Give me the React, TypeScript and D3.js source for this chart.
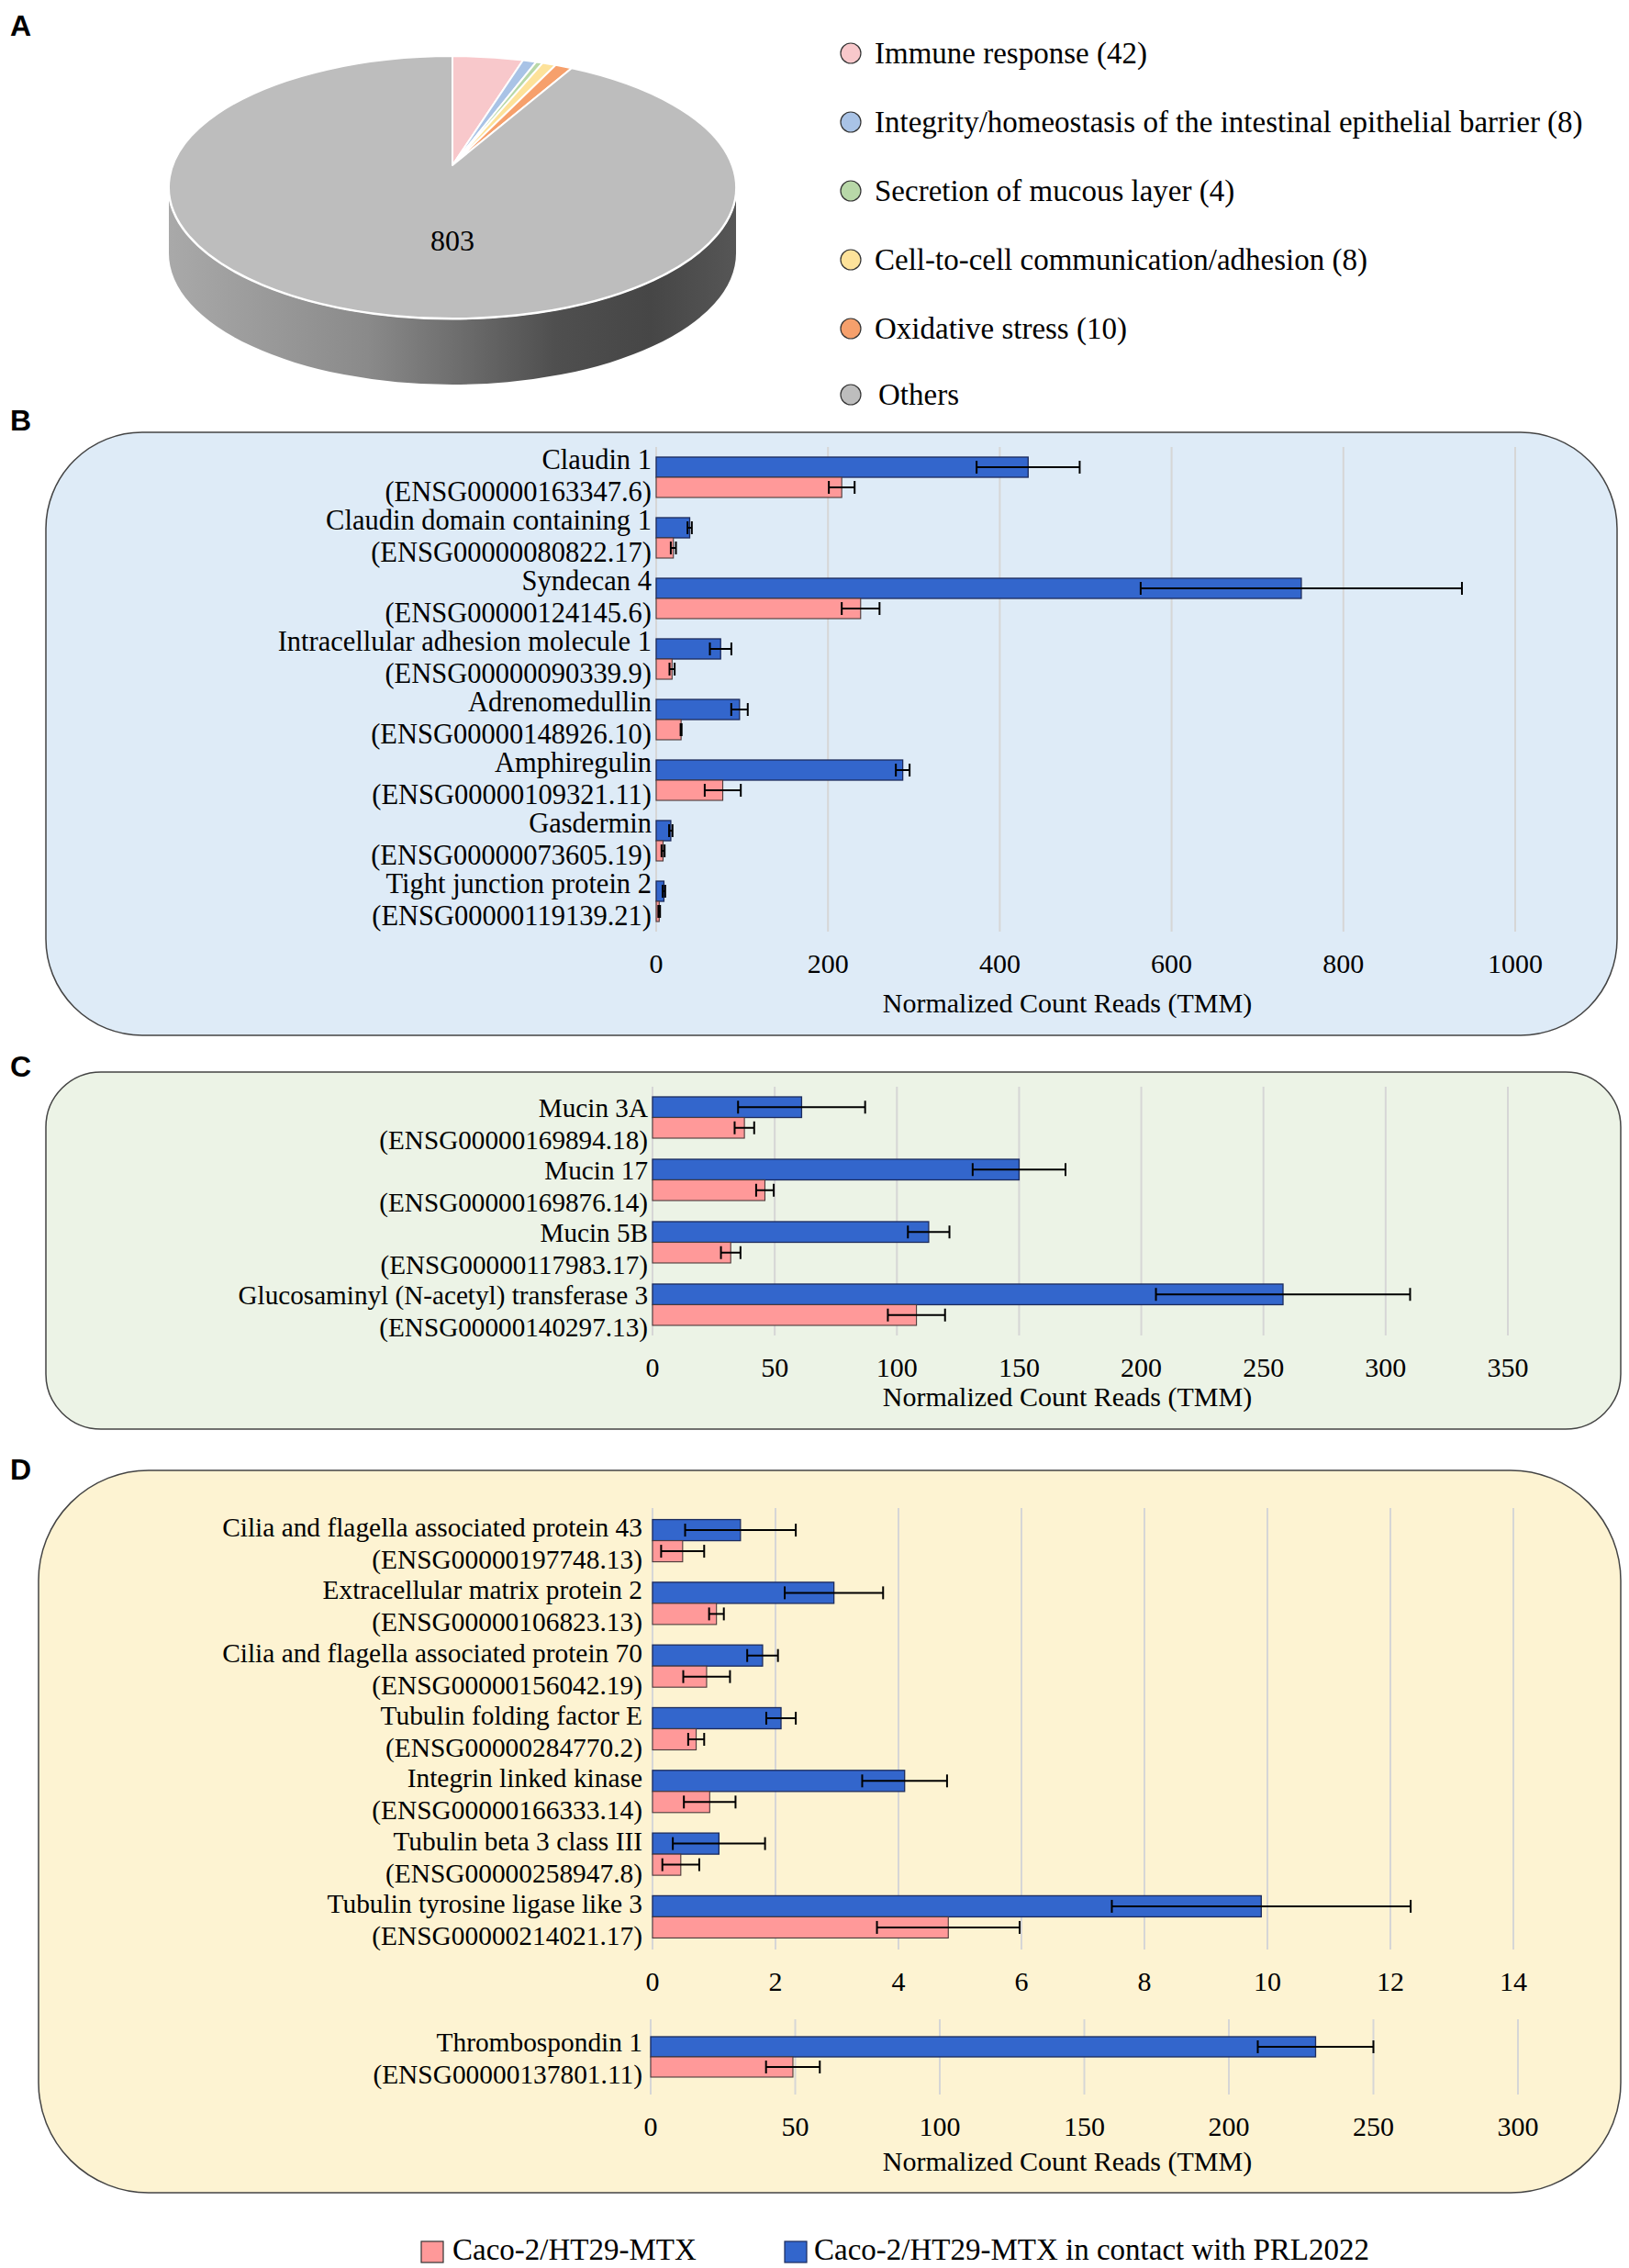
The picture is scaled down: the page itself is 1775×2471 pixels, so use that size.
import React from "react";
import * as d3 from "d3";

const serif = "'Liberation Serif', 'Times New Roman', serif";
const sans = "'Liberation Sans', Arial, sans-serif";

// legend series (control first, treated second)
const seriesNames = ["Caco-2/HT29-MTX", "Caco-2/HT29-MTX in contact with PRL2022"];
const controlColor = "#ff9999";
const treatedColor = "#3366cc";

// Panel A - pie
const pieCategories = [
  "Immune response (42)",
  "Integrity/homeostasis of the intestinal epithelial barrier (8)",
  "Secretion of mucous layer (4)",
  "Cell-to-cell communication/adhesion (8)",
  "Oxidative stress (10)",
  "Others",
];
const pieValues = [42, 8, 4, 8, 10, 803];
const pieColors = ["#f8c8cb", "#a9c3e6", "#b8d8a8", "#fde29a", "#f6a06c", "#bdbdbd"];

// Panel B
const bGenes = [
  "Claudin 1",
  "Claudin domain containing 1",
  "Syndecan 4",
  "Intracellular adhesion molecule 1",
  "Adrenomedullin",
  "Amphiregulin",
  "Gasdermin",
  "Tight junction protein 2",
];
const bIds = [
  "(ENSG00000163347.6)",
  "(ENSG00000080822.17)",
  "(ENSG00000124145.6)",
  "(ENSG00000090339.9)",
  "(ENSG00000148926.10)",
  "(ENSG00000109321.11)",
  "(ENSG00000073605.19)",
  "(ENSG00000119139.21)",
];
const bTreated = [433, 39, 751, 75, 97, 287, 17, 9];
const bTreatedErr = [60, 2.5, 187, 12.5, 9.6, 8, 2, 1.5];
const bControl = [216, 20, 238, 18.5, 29, 77.5, 8, 3.5];
const bControlErr = [15, 3, 22, 3, 0.6, 21, 1.8, 1];
const bTicks = [0, 200, 400, 600, 800, 1000];

// Panel C
const cGenes = ["Mucin 3A", "Mucin 17", "Mucin 5B", "Glucosaminyl (N-acetyl) transferase 3"];
const cIds = [
  "(ENSG00000169894.18)",
  "(ENSG00000169876.14)",
  "(ENSG00000117983.17)",
  "(ENSG00000140297.13)",
];
const cTreated = [61, 150, 113, 258];
const cTreatedErr = [26, 19, 8.5, 52];
const cControl = [37.6, 46, 32, 108];
const cControlErr = [4, 3.6, 4, 11.7];
const cTicks = [0, 50, 100, 150, 200, 250, 300, 350];

// Panel D (upper chart)
const dGenes = [
  "Cilia and flagella associated protein 43",
  "Extracellular matrix protein 2",
  "Cilia and flagella associated protein 70",
  "Tubulin folding factor E",
  "Integrin linked kinase",
  "Tubulin beta 3 class III",
  "Tubulin tyrosine ligase like 3",
];
const dIds = [
  "(ENSG00000197748.13)",
  "(ENSG00000106823.13)",
  "(ENSG00000156042.19)",
  "(ENSG00000284770.2)",
  "(ENSG00000166333.14)",
  "(ENSG00000258947.8)",
  "(ENSG00000214021.17)",
];
const dTreated = [1.43, 2.95, 1.79, 2.09, 4.1, 1.08, 9.9];
const dTreatedErr = [0.9, 0.8, 0.25, 0.24, 0.69, 0.75, 2.43];
const dControl = [0.49, 1.04, 0.88, 0.71, 0.93, 0.46, 4.81];
const dControlErr = [0.35, 0.12, 0.38, 0.13, 0.42, 0.3, 1.16];
const dTicks = [0, 2, 4, 6, 8, 10, 12, 14];

// Panel D (lower chart)
const tGenes = ["Thrombospondin 1"];
const tIds = ["(ENSG00000137801.11)"];
const tTreated = [230];
const tTreatedErr = [20];
const tControl = [49.2];
const tControlErr = [9.3];
const tTicks = [0, 50, 100, 150, 200, 250, 300];

const axisTitle = "Normalized Count Reads (TMM)";

interface BarChartProps {
  genes: string[];
  ids: string[];
  treated: number[];
  treatedErr: number[];
  control: number[];
  controlErr: number[];
  ticks: number[];
  xRange: [number, number];
  top: number;
  bottom: number;
  padInner: number;
  padOuter: number;
  labelShift: number;
  labelGap: number;
  fontSize: number;
  titleY?: number;
}

function BarChart(p: BarChartProps) {
  const max = p.ticks[p.ticks.length - 1];
  const x = d3.scaleLinear().domain([0, max]).range(p.xRange);
  const y = d3
    .scaleBand()
    .domain(p.genes)
    .range([p.top, p.bottom])
    .paddingInner(p.padInner)
    .paddingOuter(p.padOuter);
  const inner = d3.scaleBand().domain(["treated", "control"]).range([0, y.bandwidth()]);
  const bh = inner.bandwidth();
  const cap = 7;

  const errBar = (cx: number, cy: number, e: number, key: string) => (
    <g key={key} stroke="#000" strokeWidth={2}>
      <line x1={x(cx - e)} x2={x(cx + e)} y1={cy} y2={cy} />
      <line x1={x(cx - e)} x2={x(cx - e)} y1={cy - cap} y2={cy + cap} />
      <line x1={x(cx + e)} x2={x(cx + e)} y1={cy - cap} y2={cy + cap} />
    </g>
  );

  return (
    <g>
      {p.ticks.map((t) => (
        <line key={t} x1={x(t)} x2={x(t)} y1={p.top} y2={p.bottom} stroke="#d6d6d6" strokeWidth={2} />
      ))}
      {p.genes.map((g, i) => {
        const y0 = y(g) ?? 0;
        const yt = y0 + (inner("treated") ?? 0);
        const yc = y0 + (inner("control") ?? 0);
        const mid = y0 + y.bandwidth() / 2 + p.labelShift;
        return (
          <g key={g}>
            <rect x={x(0)} y={yt} width={x(p.treated[i]) - x(0)} height={bh} fill={treatedColor} stroke="#1c2b5c" strokeWidth={1.3} />
            <rect x={x(0)} y={yc} width={x(p.control[i]) - x(0)} height={bh} fill={controlColor} stroke="#4a3a3a" strokeWidth={1.1} />
            {errBar(p.treated[i], yt + bh / 2, p.treatedErr[i], "et")}
            {errBar(p.control[i], yc + bh / 2, p.controlErr[i], "ec")}
            <text x={x(0) - p.labelGap} y={mid - 17.5 + 10} textAnchor="end" fontFamily={serif} fontSize={p.fontSize}>
              {g}
            </text>
            <text x={x(0) - p.labelGap} y={mid + 17.5 + 10} textAnchor="end" fontFamily={serif} fontSize={p.fontSize}>
              {p.ids[i]}
            </text>
          </g>
        );
      })}
      {p.ticks.map((t) => (
        <text key={"l" + t} x={x(t)} y={p.bottom + 45} textAnchor="middle" fontFamily={serif} fontSize={30}>
          {t}
        </text>
      ))}
      {p.titleY !== undefined && (
        <text x={1163} y={p.titleY} textAnchor="middle" fontFamily={serif} fontSize={30}>
          {axisTitle}
        </text>
      )}
    </g>
  );
}

// 3D pie geometry
const pieCx = 493;
const pieCy = 204;
const pieRx = 309;
const pieRy = 143;
const pieDepth = 72;
const apexY = 180;

function rimPoint(angle: number): [number, number, number] {
  const py = (apexY - pieCy) / pieRy;
  const dx = Math.sin(angle);
  const dy = -Math.cos(angle);
  const pd = py * dy;
  const t = -pd + Math.sqrt(pd * pd - (py * py - 1));
  const ux = t * dx;
  const uy = py + t * dy;
  let a = Math.atan2(ux, -uy);
  if (a < 0) a += Math.PI * 2;
  return [pieCx + pieRx * ux, pieCy + pieRy * uy, a];
}

function PieA() {
  const arcs = d3.pie<number>().sort(null)(pieValues);
  const side =
    `M${pieCx - pieRx},${pieCy} A${pieRx},${pieRy} 0 0 0 ${pieCx + pieRx},${pieCy} ` +
    `L${pieCx + pieRx},${pieCy + pieDepth} A${pieRx},${pieRy} 0 0 1 ${pieCx - pieRx},${pieCy + pieDepth} Z`;
  return (
    <g>
      <defs>
        <linearGradient id="sideGrad" x1="0" x2="1" y1="0" y2="0">
          <stop offset="0" stopColor="#a9a9a9" />
          <stop offset="0.35" stopColor="#8a8a8a" />
          <stop offset="0.68" stopColor="#4f4f4f" />
          <stop offset="0.85" stopColor="#464646" />
          <stop offset="1" stopColor="#565656" />
        </linearGradient>
      </defs>
      <path d={side} fill="url(#sideGrad)" />
      <ellipse cx={pieCx} cy={pieCy} rx={pieRx} ry={pieRy} fill="#bdbdbd" stroke="#fff" strokeWidth={3} />
      {arcs.map((a, i) => {
        const [x0, y0, p0] = rimPoint(a.startAngle);
        const [x1, y1, p1] = rimPoint(a.endAngle);
        const large = p1 - p0 > Math.PI ? 1 : 0;
        const d = `M${pieCx},${apexY} L${x0},${y0} A${pieRx},${pieRy} 0 ${large} 1 ${x1},${y1} Z`;
        return <path key={i} d={d} fill={pieColors[i]} stroke="#fff" strokeWidth={2} strokeLinejoin="round" />;
      })}
      <text x={pieCx} y={273} textAnchor="middle" fontFamily={serif} fontSize={32}>
        {pieValues[5]}
      </text>
      {pieCategories.map((c, i) => {
        const yc = [58, 133, 208, 283, 358, 430][i];
        return (
          <g key={c}>
            <circle cx={927} cy={yc} r={11} fill={pieColors[i]} stroke="#333" strokeWidth={1.2} />
            <text x={i === 5 ? 957 : 953} y={yc + 11} fontFamily={serif} fontSize={33}>
              {c}
            </text>
          </g>
        );
      })}
    </g>
  );
}

export default function App() {
  return (
    <svg
      width={1775}
      height={2471}
      style={{ position: "absolute", left: 0, top: 0, background: "#fff" }}
    >
      <rect x={0} y={0} width={1775} height={2471} fill="#fff" />
      <text x={11} y={39} fontFamily={sans} fontWeight="bold" fontSize={32}>A</text>
      <PieA />

      <text x={11} y={469} fontFamily={sans} fontWeight="bold" fontSize={32}>B</text>
      <rect x={50} y={471} width={1712} height={657} rx={105} ry={105} fill="#deebf7" stroke="#444" strokeWidth={1.5} />
      <BarChart
        genes={bGenes}
        ids={bIds}
        treated={bTreated}
        treatedErr={bTreatedErr}
        control={bControl}
        controlErr={bControlErr}
        ticks={bTicks}
        xRange={[715, 1651]}
        top={487}
        bottom={1015}
        padInner={1 / 3}
        padOuter={1 / 6}
        labelShift={-1.5}
        labelGap={5}
        fontSize={30.5}
        titleY={1103}
      />

      <text x={11} y={1173} fontFamily={sans} fontWeight="bold" fontSize={32}>C</text>
      <rect x={50} y={1168} width={1716} height={389} rx={60} ry={60} fill="#ecf3e6" stroke="#444" strokeWidth={1.5} />
      <BarChart
        genes={cGenes}
        ids={cIds}
        treated={cTreated}
        treatedErr={cTreatedErr}
        control={cControl}
        controlErr={cControlErr}
        ticks={cTicks}
        xRange={[711, 1643]}
        top={1184}
        bottom={1455}
        padInner={0.338}
        padOuter={0.162}
        labelShift={7}
        labelGap={5}
        fontSize={29.2}
        titleY={1532}
      />

      <text x={11} y={1612} fontFamily={sans} fontWeight="bold" fontSize={32}>D</text>
      <rect x={42} y={1602} width={1724} height={787} rx={120} ry={120} fill="#fdf3d2" stroke="#444" strokeWidth={1.5} />
      <BarChart
        genes={dGenes}
        ids={dIds}
        treated={dTreated}
        treatedErr={dTreatedErr}
        control={dControl}
        controlErr={dControlErr}
        ticks={dTicks}
        xRange={[711, 1649]}
        top={1643}
        bottom={2124}
        padInner={0.3265}
        padOuter={0.184}
        labelShift={3}
        labelGap={11}
        fontSize={29.4}
      />
      <BarChart
        genes={tGenes}
        ids={tIds}
        treated={tTreated}
        treatedErr={tTreatedErr}
        control={tControl}
        controlErr={tControlErr}
        ticks={tTicks}
        xRange={[709, 1654]}
        top={2200}
        bottom={2282}
        padInner={1 / 3}
        padOuter={0.288}
        labelShift={1}
        labelGap={9}
        fontSize={29.4}
        titleY={2365}
      />

      <rect x={459} y={2442} width={24} height={23} fill={controlColor} stroke="#333" strokeWidth={1.2} />
      <text x={493} y={2462} fontFamily={serif} fontSize={33}>{seriesNames[0]}</text>
      <rect x={855} y={2442} width={24} height={23} fill={treatedColor} stroke="#1c2b5c" strokeWidth={1.2} />
      <text x={887} y={2462} fontFamily={serif} fontSize={33}>{seriesNames[1]}</text>
    </svg>
  );
}
